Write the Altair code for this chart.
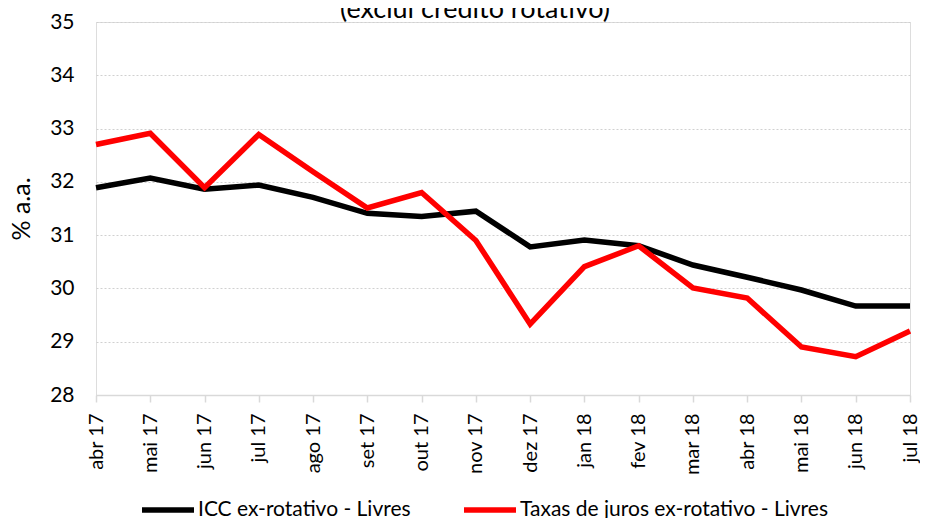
import altair as alt
import pandas as pd

months = ["abr 17", "mai 17", "jun 17", "jul 17", "ago 17", "set 17", "out 17", "nov 17",
          "dez 17", "jan 18", "fev 18", "mar 18", "abr 18", "mai 18", "jun 18", "jul 18"]
icc = [31.89, 32.07, 31.86, 31.94, 31.71, 31.41, 31.35, 31.45,
       30.78, 30.91, 30.80, 30.44, 30.21, 29.97, 29.67, 29.67]
taxas = [32.70, 32.91, 31.89, 32.89, 32.19, 31.51, 31.80, 30.90,
         29.33, 30.41, 30.80, 30.01, 29.82, 28.90, 28.72, 29.20]
series_names = ["ICC ex-rotativo - Livres", "Taxas de juros ex-rotativo - Livres"]
series_colors = ["#000000", "#ff0000"]
y_ticks = [28, 29, 30, 31, 32, 33, 34, 35]
title_text = "(exclui crédito rotativo)"
y_title = "% a.a."

FONT = "Lato"

rows = []
for name, vals in zip(series_names, [icc, taxas]):
    for m, v in zip(months, vals):
        rows.append({"mes": m, "valor": v, "serie": name})
df = pd.DataFrame(rows)

lines = alt.Chart(df).mark_line(strokeWidth=5.5, strokeJoin="miter").encode(
    x=alt.X("mes:O", sort=months,
            scale=alt.Scale(type="point", padding=0),
            axis=alt.Axis(title=None, labelAngle=-90, labelFontSize=20, labelFont=FONT,
                          labelColor="#000000", labelPadding=11,
                          domainColor="#d9d9d9", domainWidth=1.5,
                          tickColor="#d9d9d9", tickSize=7, tickWidth=1.5,
                          grid=False)),
    y=alt.Y("valor:Q",
            scale=alt.Scale(domain=[28, 35], nice=False, zero=False),
            axis=alt.Axis(title=y_title, values=y_ticks, format="d",
                          labelFontSize=21, labelFont=FONT, labelColor="#000000",
                          labelPadding=22, ticks=False, domain=False,
                          titleFontSize=25, titleFont=FONT, titleFontWeight="normal",
                          titleColor="#000000", titlePadding=15,
                          grid=True, gridColor="#d0d0d0", gridDash=[2, 2], gridWidth=1)),
    color=alt.Color("serie:N",
                    scale=alt.Scale(domain=series_names, range=series_colors),
                    legend=alt.Legend(title=None, orient="none", legendX=43, legendY=459,
                                      direction="horizontal", columns=2,
                                      symbolType="stroke", symbolSize=2704,
                                      symbolStrokeWidth=5.5, labelFontSize=21,
                                      labelFont=FONT, labelColor="#000000", labelLimit=500,
                                      labelOffset=1, columnPadding=42, padding=0)),
)

title_df = pd.DataFrame({"t": [title_text]})
title = alt.Chart(title_df).mark_text(
    font=FONT, fontSize=27, color="#000000", align="center", baseline="alphabetic"
).encode(
    text="t:N",
    x=alt.value(379),
    y=alt.value(-4),
)

chart = alt.layer(lines, title).properties(
    width=814, height=373,
    autosize=alt.AutoSizeParams(type="none"),
    padding={"left": 88, "top": 14, "right": 10, "bottom": 123},
).configure_view(stroke=None).configure(background="white")

chart.save("out.html", embed_options={"renderer": "svg", "actions": False})
